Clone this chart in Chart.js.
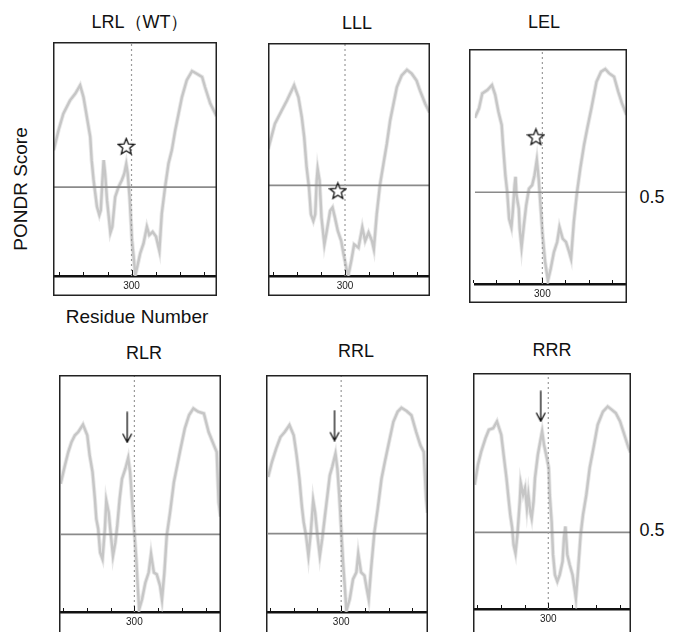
<!DOCTYPE html>
<html><head><meta charset="utf-8">
<script src="https://cdn.jsdelivr.net/npm/chart.js@4"></script>
<style>
html,body{margin:0;padding:0;background:#fff;overflow:hidden;width:679px;height:632px;}
.t{position:absolute;font-family:Arial,"Liberation Sans",sans-serif;color:#111;white-space:nowrap;transform:translate(-50%,-50%);line-height:1;}
canvas{position:absolute;}
</style></head><body>
<div class="t" style="left:140px;top:22px;font-size:18px">LRL（WT）</div>
<div class="t" style="left:357px;top:23px;font-size:18px">LLL</div>
<div class="t" style="left:544px;top:22px;font-size:18px">LEL</div>
<div class="t" style="left:144px;top:353px;font-size:18px">RLR</div>
<div class="t" style="left:356px;top:351px;font-size:18px">RRL</div>
<div class="t" style="left:552px;top:350px;font-size:18px">RRR</div>
<div class="t" style="left:20px;top:189px;font-size:19px;transform:translate(-50%,-50%) rotate(-90deg)">PONDR Score</div>
<div class="t" style="left:137px;top:316px;font-size:19px">Residue Number</div>
<div class="t" style="left:652px;top:197px;font-size:18px">0.5</div>
<div class="t" style="left:652px;top:530px;font-size:18px">0.5</div>
<canvas id="c1"></canvas><canvas id="c2"></canvas><canvas id="c3"></canvas>
<canvas id="c4"></canvas><canvas id="c5"></canvas><canvas id="c6"></canvas>
<script>
// ---- data ----
const xTicks = [150, 200, 250, 300, 350, 400, 450];
const centerResidue = 300;
const threshold = 0.5;

const residuesLRL = [138,148,158,172,183,193,200,207,214,217,221,228,233,236,239,242,245,249,256,260,266,273,280,285,289,292,296,301,308,312,318,325,332,337,344,351,358,363,370,377,384,391,398,405,415,426,436,447,453,464,477];
const scoresLRL   = [0.625,0.692,0.748,0.793,0.816,0.844,0.804,0.737,0.670,0.591,0.524,0.434,0.406,0.422,0.512,0.591,0.546,0.456,0.346,0.366,0.467,0.501,0.524,0.546,0.578,0.546,0.467,0.321,0.203,0.231,0.276,0.310,0.366,0.338,0.349,0.333,0.285,0.411,0.501,0.580,0.625,0.692,0.748,0.804,0.861,0.892,0.883,0.872,0.838,0.782,0.74];

const residuesLLL = [140,154,168,179,194,203,210,215,220,225,229,234,238,241,243,247,251,257,262,269,274,279,285,292,297,304,307,313,319,328,336,342,349,356,360,366,373,380,387,394,401,408,418,429,439,449,456,467,476];
const scoresLLL   = [0.622,0.707,0.751,0.785,0.836,0.796,0.729,0.662,0.561,0.493,0.403,0.381,0.403,0.516,0.555,0.516,0.392,0.302,0.347,0.415,0.426,0.392,0.347,0.314,0.269,0.213,0.2,0.246,0.302,0.291,0.359,0.314,0.342,0.314,0.286,0.403,0.504,0.572,0.639,0.718,0.774,0.830,0.869,0.888,0.875,0.852,0.819,0.774,0.745];

const residuesLEL = [154,163,170,181,191,198,205,212,215,220,224,228,233,236,240,242,244,249,251,255,260,265,271,278,283,288,292,295,300,306,312,318,325,332,337,344,351,358,362,368,375,382,390,397,406,417,427,436,444,455,464,472,482];
const scoresLEL   = [0.75,0.782,0.832,0.843,0.860,0.827,0.770,0.726,0.658,0.557,0.501,0.411,0.383,0.434,0.524,0.552,0.490,0.445,0.378,0.316,0.389,0.456,0.512,0.524,0.557,0.608,0.546,0.479,0.366,0.265,0.204,0.243,0.299,0.333,0.383,0.344,0.333,0.299,0.277,0.400,0.501,0.580,0.658,0.714,0.782,0.871,0.905,0.914,0.900,0.888,0.838,0.799,0.760];

const residuesRLR = [145,154,161,168,175,182,192,201,206,212,217,220,224,228,233,238,241,246,250,255,260,264,269,274,281,287,291,295,299,304,307,310,316,323,330,335,341,347,354,358,363,368,375,383,390,397,406,415,424,434,446,456,467,473,477,481];
const scoresRLR   = [0.67,0.731,0.776,0.810,0.832,0.843,0.868,0.832,0.765,0.709,0.619,0.552,0.518,0.439,0.417,0.518,0.613,0.574,0.507,0.428,0.473,0.529,0.619,0.686,0.720,0.756,0.709,0.619,0.529,0.417,0.327,0.249,0.282,0.338,0.372,0.434,0.372,0.366,0.327,0.282,0.372,0.496,0.574,0.675,0.731,0.787,0.855,0.900,0.922,0.911,0.905,0.843,0.799,0.776,0.608,0.56];

const residuesRRL = [146,154,163,172,181,191,200,206,212,217,221,226,231,236,241,245,250,255,260,265,271,276,281,288,292,296,300,304,308,311,318,325,332,336,342,349,354,358,363,370,377,385,392,401,410,419,427,438,448,458,467,474,479,482];
const scoresRRL   = [0.69,0.740,0.785,0.824,0.841,0.864,0.830,0.763,0.684,0.594,0.538,0.493,0.426,0.504,0.611,0.572,0.493,0.426,0.482,0.549,0.628,0.695,0.723,0.768,0.718,0.628,0.516,0.403,0.314,0.241,0.280,0.347,0.370,0.432,0.370,0.359,0.314,0.280,0.381,0.504,0.583,0.684,0.740,0.808,0.875,0.909,0.922,0.911,0.897,0.841,0.796,0.774,0.617,0.57];

const residuesRRR = [145,152,159,168,175,184,192,201,206,212,217,220,224,227,231,235,240,242,247,251,255,258,262,265,269,272,278,283,287,291,297,301,303,307,310,314,319,324,330,333,336,340,345,351,355,358,363,368,373,380,387,395,404,415,425,434,442,451,460,469,473];
const scoresRRR   = [0.66,0.728,0.773,0.818,0.846,0.851,0.874,0.829,0.762,0.683,0.604,0.559,0.515,0.458,0.430,0.492,0.604,0.666,0.627,0.649,0.582,0.627,0.571,0.548,0.604,0.683,0.762,0.806,0.840,0.795,0.750,0.717,0.627,0.537,0.425,0.357,0.335,0.357,0.402,0.481,0.520,0.425,0.391,0.357,0.313,0.279,0.380,0.492,0.559,0.627,0.717,0.784,0.863,0.907,0.924,0.913,0.902,0.874,0.829,0.784,0.77];

// marker positions (stars for L-variants, arrows for R-variants)
const starResidues  = [289, 285, 286];
const starScores    = [0.638, 0.482, 0.686];
const arrowResidues = [285, 286, 284];
const arrowScores   = [0.859, 0.862, 0.925];

// ---- layout (pixels) ----
const panels = [
  {id:'c1', res:residuesLRL, sc:scoresLRL, left:53,  top:42,  w:164, h:254, box:20, xMin:136.5, xMax:478, yMin:0.200, yMax:0.990, mark:'star',  mi:0},
  {id:'c2', res:residuesLLL, sc:scoresLLL, left:268, top:43,  w:162, h:253, box:20, xMin:139.6, xMax:477, yMin:0.196, yMax:0.978, mark:'star',  mi:1},
  {id:'c3', res:residuesLEL, sc:scoresLEL, left:469, top:49,  w:158, h:254, box:19, xMin:154,   xMax:483, yMin:0.192, yMax:0.981, mark:'star',  mi:2},
  {id:'c4', res:residuesRLR, sc:scoresRLR, left:59,  top:375, w:162, h:261, box:24, xMin:145,   xMax:482, yMin:0.240, yMax:1.034, mark:'arrow', mi:0},
  {id:'c5', res:residuesRRL, sc:scoresRRL, left:266, top:375, w:162, h:261, box:24, xMin:145.6, xMax:483, yMin:0.237, yMax:1.032, mark:'arrow', mi:1},
  {id:'c6', res:residuesRRR, sc:scoresRRR, left:473, top:373, w:158, h:263, box:27, xMin:145,   xMax:474, yMin:0.242, yMax:1.037, mark:'arrow', mi:2}
];

function makeStar(){
  const c = document.createElement('canvas'); c.width = 19; c.height = 19;
  const g = c.getContext('2d');
  g.beginPath();
  for (let i = 0; i < 10; i++) {
    const r = i % 2 ? 3.7 : 8.4;
    const a = -Math.PI / 2 + i * Math.PI / 5;
    const px = 9.5 + r * Math.cos(a), py = 10.2 + r * Math.sin(a);
    if (i) g.lineTo(px, py); else g.moveTo(px, py);
  }
  g.closePath();
  g.fillStyle = '#fff'; g.fill();
  g.lineWidth = 1.3; g.strokeStyle = '#111'; g.stroke();
  return c;
}
function makeArrow(){
  const c = document.createElement('canvas'); c.width = 12; c.height = 32;
  const g = c.getContext('2d');
  g.strokeStyle = '#111'; g.lineWidth = 1.3;
  g.beginPath();
  g.moveTo(6, 0.5); g.lineTo(6, 31);
  g.moveTo(1.5, 22.5); g.lineTo(6, 31); g.lineTo(10.5, 22.5);
  g.stroke();
  return c;
}
const starImg = makeStar();
const arrowImg = makeArrow();

const framePlugin = {
  id: 'frame',
  afterDraw(chart) {
    const ctx = chart.ctx, a = chart.chartArea, x = chart.scales.x;
    ctx.save();
    ctx.strokeStyle = '#111'; ctx.lineWidth = 1;
    xTicks.forEach(v => {
      const p = Math.round(x.getPixelForValue(v)) + 0.5;
      ctx.beginPath();
      ctx.moveTo(p, a.bottom - 1);
      ctx.lineTo(p, a.bottom - (v === centerResidue ? 6 : 4));
      ctx.stroke();
    });
    ctx.lineWidth = 1.5; ctx.strokeStyle = '#222';
    ctx.strokeRect(0.75, 0.75, chart.width - 1.5, chart.height - 1.5);
    ctx.restore();
  }
};

panels.forEach(p => {
  const cv = document.getElementById(p.id);
  cv.width = p.w; cv.height = p.h;
  cv.style.left = p.left + 'px'; cv.style.top = p.top + 'px';
  cv.style.width = p.w + 'px'; cv.style.height = p.h + 'px';
  const isStar = p.mark === 'star';
  const mx = isStar ? starResidues[p.mi] : arrowResidues[p.mi];
  const my = isStar ? starScores[p.mi] : arrowScores[p.mi];
  const curve = p.res.map((r, i) => ({x: r, y: p.sc[i]}));
  new Chart(cv, {
    type: 'line',
    data: { datasets: [
      { data: [{x: mx, y: my}], showLine: false, pointStyle: isStar ? starImg : arrowImg, pointRadius: 6, order: 0 },
      { data: [{x: centerResidue, y: p.yMin}, {x: centerResidue, y: p.yMax}], borderColor: '#9a9a9a', borderWidth: 1.2, borderDash: [2, 3], pointRadius: 0, order: 1 },
      { data: [{x: p.xMin, y: threshold}, {x: p.xMax, y: threshold}], borderColor: '#8a8a8a', borderWidth: 1.7, pointRadius: 0, order: 1 },
      { data: curve, borderColor: '#c6c6c6', borderWidth: 2.4, pointRadius: 0, tension: 0, order: 2 },
      { data: curve, borderColor: 'rgba(205,205,205,0.45)', borderWidth: 4.2, pointRadius: 0, tension: 0, order: 3 }
    ]},
    options: {
      responsive: false, animation: false, devicePixelRatio: 1, events: [],
      layout: { padding: 0, autoPadding: false },
      plugins: { legend: { display: false }, tooltip: { enabled: false } },
      scales: {
        x: {
          type: 'linear', min: p.xMin, max: p.xMax,
          afterBuildTicks: s => { s.ticks = xTicks.map(v => ({value: v})); },
          afterFit: s => { s.height = p.box; },
          grid: { display: false, drawTicks: false },
          border: { display: true, color: '#111', width: 2.5 },
          ticks: { padding: 4, autoSkip: false, maxRotation: 0, color: '#222',
                   font: { size: 10, family: 'Arial, "Liberation Sans", sans-serif' },
                   callback: v => v === centerResidue ? String(v) : '' }
        },
        y: { display: false, min: p.yMin, max: p.yMax }
      }
    },
    plugins: [framePlugin]
  });
});
</script>
</body></html>
